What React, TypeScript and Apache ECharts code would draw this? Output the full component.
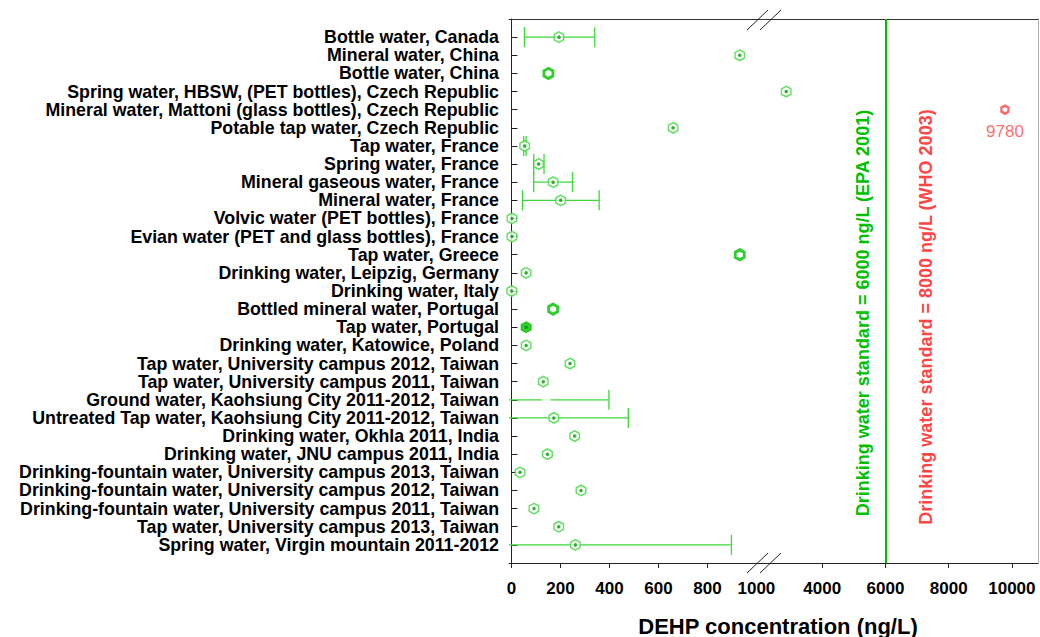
import React, { useEffect, useRef } from "react";
import * as echarts from "echarts";

// ---------- data ----------
const categories: string[] = [
  "Bottle water, Canada",
  "Mineral water, China",
  "Bottle water, China",
  "Spring water, HBSW, (PET bottles), Czech Republic",
  "Mineral water, Mattoni (glass bottles), Czech Republic",
  "Potable tap water, Czech Republic",
  "Tap water, France",
  "Spring water, France",
  "Mineral gaseous water, France",
  "Mineral water, France",
  "Volvic water (PET bottles), France",
  "Evian water (PET and glass bottles), France",
  "Tap water, Greece",
  "Drinking water, Leipzig, Germany",
  "Drinking water, Italy",
  "Bottled mineral water, Portugal",
  "Tap water, Portugal",
  "Drinking water, Katowice, Poland",
  "Tap water, University campus 2012, Taiwan",
  "Tap water, University campus 2011, Taiwan",
  "Ground water, Kaohsiung City 2011-2012, Taiwan",
  "Untreated Tap water, Kaohsiung City 2011-2012, Taiwan",
  "Drinking water, Okhla 2011, India",
  "Drinking water, JNU campus 2011, India",
  "Drinking-fountain water, University campus 2013, Taiwan",
  "Drinking-fountain water, University campus 2012, Taiwan",
  "Drinking-fountain water, University campus 2011, Taiwan",
  "Tap water, University campus 2013, Taiwan",
  "Spring water, Virgin mountain 2011-2012",
];

// DEHP concentration (ng/L)
const meanValues: number[] = [
  194, 932, 151, 2860, 9780, 660, 54, 111, 170, 201, 2, 2, 932, 60, 1, 170, 60,
  60, 239, 130, 142, 173, 258, 147, 35, 284, 92, 193, 261,
];
const lowerValues: (number | null)[] = [
  53, null, null, null, null, null, 50, 91, 91, 45, null, null, null, null, null,
  null, null, null, null, null, -114, -131, null, null, null, null, null, null, -376,
];
const upperValues: (number | null)[] = [
  340, null, null, null, null, null, 60, 133, 249, 358, null, null, null, null, null,
  null, null, null, null, null, 398, 477, null, null, null, null, null, null, 898,
];

const boldMarkerSites: string[] = [
  "Bottle water, China",
  "Tap water, Greece",
  "Bottled mineral water, Portugal",
];
const filledMarkerSites: string[] = ["Tap water, Portugal"];
const hiddenMarkerSites: string[] = ["Ground water, Kaohsiung City 2011-2012, Taiwan"];

const lowAxisTicks: number[] = [0, 200, 400, 600, 800];
const lowAxisLabels: number[] = [0, 200, 400, 600, 800, 1000];
const highAxisTicks: number[] = [4000, 6000, 8000, 10000];

const epaStandard = 6000;
const whoStandard = 8000;
const breakValue = 1031;

const epaText = "Drinking water standard = 6000 ng/L (EPA 2001)";
const whoText = "Drinking water standard = 8000 ng/L (WHO 2003)";
const xAxisTitle = "DEHP concentration (ng/L)";

// ---------- styles ----------
const HEX = "path://M0,-10 L8.66,-5 L8.66,5 L0,10 L-8.66,5 L-8.66,-5 Z";
const GREEN_LIGHT = "#3cd83c";
const GREEN = "#00c000";
const GREEN_DARK = "#009a00";
const RED = "#ff4646";
const FONT = "'Liberation Sans', Arial, sans-serif";

const yCats = ["", ...categories, " "];

export default function App() {
  const ref = useRef<HTMLDivElement>(null);

  useEffect(() => {
    if (!ref.current) return;
    const chart = echarts.init(ref.current, undefined, { renderer: "svg" });

    const rowIdx = (i: number) => i + 1;
    const lowPts = (filter: (name: string, v: number) => boolean) =>
      meanValues
        .map((v, i) => ({ v, i }))
        .filter(({ v, i }) => v <= breakValue && filter(categories[i], v))
        .map(({ v, i }) => [v, rowIdx(i)]);
    const highPts = (filter: (v: number) => boolean) =>
      meanValues
        .map((v, i) => ({ v, i }))
        .filter(({ v }) => v > breakValue && filter(v))
        .map(({ v, i }) => [v, rowIdx(i)]);

    const isRing = (n: string) =>
      !boldMarkerSites.includes(n) &&
      !filledMarkerSites.includes(n) &&
      !hiddenMarkerSites.includes(n);

    const errData = categories
      .map((_, i) => [lowerValues[i], upperValues[i], rowIdx(i)])
      .filter((d) => d[0] !== null && d[1] !== null);

    const yAxisBase = {
      type: "category" as const,
      data: yCats,
      boundaryGap: false,
      inverse: true,
    };

    const tickLabelStyle = {
      fontFamily: FONT,
      fontWeight: "bold",
      fontSize: 17,
      color: "#000",
      margin: 17,
      formatter: (v: number) => String(v),
    };

    const option: any = {
      animation: false,
      grid: [
        { left: 509, top: 19, width: 255, height: 544 },
        { left: 764, top: 19, width: 274, height: 544 },
      ],
      xAxis: [
        {
          type: "value",
          gridIndex: 0,
          min: -10,
          max: breakValue,
          position: "bottom",
          splitLine: { show: false },
          axisLine: { show: true, lineStyle: { color: "#222", width: 1 } },
          axisTick: {
            show: true,
            inside: false,
            length: 5,
            customValues: lowAxisTicks,
            lineStyle: { color: "#222" },
          },
          axisLabel: { ...tickLabelStyle, customValues: lowAxisLabels },
        },
        {
          type: "value",
          gridIndex: 1,
          min: 2158,
          max: 10826,
          position: "bottom",
          splitLine: { show: false },
          axisLine: { show: true, lineStyle: { color: "#222", width: 1 } },
          axisTick: {
            show: true,
            inside: false,
            length: 5,
            customValues: highAxisTicks,
            lineStyle: { color: "#222" },
          },
          axisLabel: { ...tickLabelStyle, customValues: highAxisTicks },
        },
        {
          type: "value",
          gridIndex: 0,
          min: -10,
          max: breakValue,
          position: "top",
          splitLine: { show: false },
          axisLine: { show: true, lineStyle: { color: "#333", width: 1 } },
          axisTick: { show: false },
          axisLabel: { show: false },
        },
        {
          type: "value",
          gridIndex: 1,
          min: 2158,
          max: 10826,
          position: "top",
          splitLine: { show: false },
          axisLine: { show: true, lineStyle: { color: "#333", width: 1 } },
          axisTick: { show: false },
          axisLabel: { show: false },
        },
      ],
      yAxis: [
        {
          ...yAxisBase,
          gridIndex: 0,
          position: "left",
          axisLine: { show: true, lineStyle: { color: "#222", width: 1 } },
          axisTick: {
            show: true,
            inside: true,
            length: 6,
            interval: (i: number) => i > 0 && i < yCats.length - 1,
            lineStyle: { color: "#222" },
          },
          axisLabel: {
            interval: 0,
            fontFamily: FONT,
            fontWeight: "bold",
            fontSize: 17.8,
            color: "#000",
            margin: 10,
          },
          splitLine: { show: false },
        },
        {
          ...yAxisBase,
          gridIndex: 1,
          position: "right",
          axisLine: { show: true, lineStyle: { color: "#b0b0b0", width: 1 } },
          axisTick: { show: false },
          axisLabel: { show: false },
          splitLine: { show: false },
        },
      ],
      series: [
        {
          type: "custom",
          name: "error bars",
          xAxisIndex: 0,
          yAxisIndex: 0,
          clip: true,
          z: 2,
          data: errData,
          renderItem: (params: any, api: any) => {
            const lo = api.coord([api.value(0), api.value(2)]);
            const hi = api.coord([api.value(1), api.value(2)]);
            const cap = 10;
            const style = { stroke: GREEN_LIGHT, lineWidth: 1.3 };
            return {
              type: "group",
              children: [
                { type: "line", shape: { x1: lo[0], y1: lo[1], x2: hi[0], y2: hi[1] }, style },
                { type: "line", shape: { x1: lo[0], y1: lo[1] - cap, x2: lo[0], y2: lo[1] + cap }, style },
                { type: "line", shape: { x1: hi[0], y1: hi[1] - cap, x2: hi[0], y2: hi[1] + cap }, style },
              ],
            };
          },
        },
        {
          type: "scatter",
          xAxisIndex: 0,
          yAxisIndex: 0,
          z: 3,
          symbol: HEX,
          symbolSize: [9.5, 10.5],
          itemStyle: { color: "#fff", borderColor: GREEN_LIGHT, borderWidth: 1.5 },
          data: lowPts((n) => isRing(n)),
        },
        {
          type: "scatter",
          xAxisIndex: 0,
          yAxisIndex: 0,
          z: 3,
          symbol: HEX,
          symbolSize: [9, 10],
          itemStyle: { color: "#fff", borderColor: GREEN, borderWidth: 3 },
          data: lowPts((n) => boldMarkerSites.includes(n)),
        },
        {
          type: "scatter",
          xAxisIndex: 0,
          yAxisIndex: 0,
          z: 3,
          symbol: HEX,
          symbolSize: [10, 11],
          itemStyle: { color: GREEN, borderColor: GREEN, borderWidth: 1 },
          data: lowPts((n) => filledMarkerSites.includes(n)),
        },
        {
          type: "scatter",
          xAxisIndex: 0,
          yAxisIndex: 0,
          z: 3,
          symbol: HEX,
          symbolSize: [9, 10],
          itemStyle: { color: "#fff", borderWidth: 0 },
          data: lowPts((n) => hiddenMarkerSites.includes(n)),
        },
        {
          type: "scatter",
          xAxisIndex: 0,
          yAxisIndex: 0,
          z: 4,
          symbol: "circle",
          symbolSize: 3.5,
          itemStyle: { color: GREEN_DARK },
          data: lowPts((n) => isRing(n) || filledMarkerSites.includes(n)),
        },
        // right segment
        {
          type: "scatter",
          xAxisIndex: 1,
          yAxisIndex: 1,
          z: 3,
          symbol: HEX,
          symbolSize: [9.5, 10.5],
          itemStyle: { color: "#fff", borderColor: GREEN_LIGHT, borderWidth: 1.5 },
          data: highPts((v) => v <= whoStandard),
          markLine: {
            silent: true,
            symbol: ["none", "none"],
            label: { show: false },
            lineStyle: { color: GREEN, width: 2, type: "solid" },
            data: [{ xAxis: epaStandard }],
          },
        },
        {
          type: "scatter",
          xAxisIndex: 1,
          yAxisIndex: 1,
          z: 4,
          symbol: "circle",
          symbolSize: 3.5,
          itemStyle: { color: GREEN_DARK },
          data: highPts((v) => v <= whoStandard),
        },
        {
          type: "scatter",
          xAxisIndex: 1,
          yAxisIndex: 1,
          z: 3,
          symbol: HEX,
          symbolSize: [7, 8],
          itemStyle: { color: "#fff", borderColor: RED, borderWidth: 2.5 },
          label: {
            show: true,
            position: "bottom",
            distance: 8,
            formatter: (p: any) => String(p.value[0]),
            color: RED,
            fontFamily: FONT,
            fontSize: 17,
          },
          data: highPts((v) => v > whoStandard),
        },
      ],
      graphic: [
        {
          type: "text",
          x: 863,
          y: 313,
          rotation: Math.PI / 2,
          style: {
            text: epaText,
            fill: GREEN,
            font: `bold 18px ${FONT}`,
            align: "center",
            verticalAlign: "middle",
          },
        },
        {
          type: "text",
          x: 926,
          y: 317,
          rotation: Math.PI / 2,
          style: {
            text: whoText,
            fill: RED,
            font: `bold 18px ${FONT}`,
            align: "center",
            verticalAlign: "middle",
          },
        },
        {
          type: "text",
          x: 778,
          y: 626,
          style: {
            text: xAxisTitle,
            fill: "#000",
            font: `bold 22px ${FONT}`,
            align: "center",
            verticalAlign: "middle",
          },
        },
        // axis break marks
        { type: "line", shape: { x1: 747, y1: 30, x2: 768, y2: 10 }, style: { stroke: "#222", lineWidth: 1 }, z: 10 },
        { type: "line", shape: { x1: 760, y1: 30, x2: 781, y2: 10 }, style: { stroke: "#222", lineWidth: 1 }, z: 10 },
        { type: "line", shape: { x1: 747, y1: 573, x2: 768, y2: 553 }, style: { stroke: "#222", lineWidth: 1 }, z: 10 },
        { type: "line", shape: { x1: 760, y1: 573, x2: 781, y2: 553 }, style: { stroke: "#222", lineWidth: 1 }, z: 10 },
      ],
    };

    chart.setOption(option);
    return () => chart.dispose();
  }, []);

  return (
    <div
      ref={ref}
      style={{ position: "fixed", left: 0, top: 0, width: 1040, height: 637, background: "#fff" }}
    />
  );
}
